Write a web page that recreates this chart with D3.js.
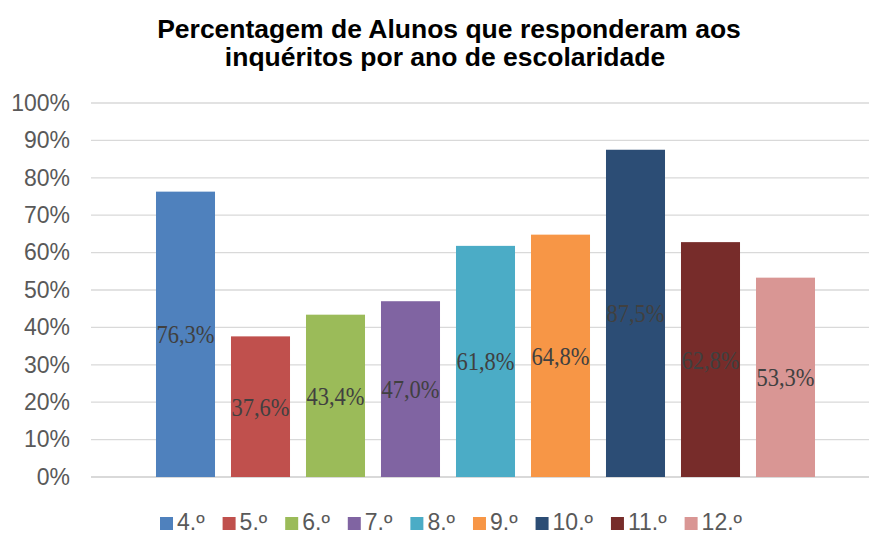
<!DOCTYPE html>
<html>
<head>
<meta charset="utf-8">
<script src="https://cdn.jsdelivr.net/npm/d3@7"></script>
<style>
  body { margin: 0; background: #fff; }
  svg { display: block; }
</style>
</head>
<body>
<svg id="chart" width="869" height="535"></svg>
<script>
// chart data
var categories = ["4.º", "5.º", "6.º", "7.º", "8.º", "9.º", "10.º", "11.º", "12.º"];
var values = [0.763, 0.376, 0.434, 0.470, 0.618, 0.648, 0.875, 0.628, 0.533];
var colors = ["#4F81BD", "#C0504D", "#9BBB59", "#8064A2", "#4BACC6", "#F79646", "#2C4D75", "#772C2A", "#D99694"];
var yTicks = [0, 0.1, 0.2, 0.3, 0.4, 0.5, 0.6, 0.7, 0.8, 0.9, 1.0];
var titleLines = ["Percentagem de Alunos que responderam aos", "inquéritos por ano de escolaridade"];

var svg = d3.select("#chart");

var x = d3.scaleBand()
  .domain(categories)
  .range([148, 823])
  .paddingInner(0.213)
  .paddingOuter(0.1065);

var y = d3.scaleLinear()
  .domain([0, 1])
  .range([477, 103]);

// title
svg.append("g").selectAll("text")
  .data(titleLines)
  .enter().append("text")
  .attr("x", function(d, i) { return i == 0 ? 449 : 445; })
  .attr("y", function(d, i) { return 38 + i * 28; })
  .attr("text-anchor", "middle")
  .style("font-family", "'Liberation Sans', Arial, sans-serif")
  .style("font-weight", "bold")
  .style("font-size", "26.5px")
  .style("fill", "#000")
  .text(function(d) { return d; });

// gridlines
var grid = svg.append("g");
grid.selectAll("line")
  .data(yTicks)
  .enter().append("line")
  .attr("x1", 91)
  .attr("x2", 869)
  .attr("y1", function(d) { return y(d); })
  .attr("y2", function(d) { return y(d); })
  .attr("stroke", "#D9D9D9")
  .attr("stroke-width", function(d) { return d == 0 ? 2 : 1.3; });

// y axis labels
var yAxis = d3.axisLeft(y)
  .tickValues(yTicks)
  .tickFormat(d3.format(".0%"))
  .tickSize(0)
  .tickPadding(0);

var ya = svg.append("g")
  .attr("transform", "translate(70,0)")
  .call(yAxis);
ya.select(".domain").remove();
ya.selectAll("text")
  .style("font-family", "'Liberation Sans', Arial, sans-serif")
  .style("font-size", "23px")
  .style("fill", "#595959");

// bars
svg.append("g").selectAll("rect")
  .data(values)
  .enter().append("rect")
  .attr("x", function(d, i) { return x(categories[i]); })
  .attr("y", function(d) { return y(d); })
  .attr("width", x.bandwidth())
  .attr("height", function(d) { return y(0) - y(d); })
  .attr("fill", function(d, i) { return colors[i]; });

// data labels in the middle of each bar
svg.append("g").selectAll("text")
  .data(values)
  .enter().append("text")
  .attr("transform", function(d, i) {
    var cx = x(categories[i]) + x.bandwidth() / 2;
    var cy = (y(d) + y(0)) / 2 + 9;
    return "translate(" + cx + "," + cy + ") scale(0.9,1)";
  })
  .attr("text-anchor", "middle")
  .style("font-family", "'Liberation Serif', 'Times New Roman', serif")
  .style("font-size", "25px")
  .style("fill", "#404040")
  .text(function(d) { return (d * 100).toFixed(1).replace(".", ",") + "%"; });

// legend
var legend = svg.append("g");
var items = legend.selectAll("g")
  .data(categories)
  .enter().append("g");

items.append("rect")
  .attr("width", 13)
  .attr("height", 13)
  .attr("y", 517)
  .attr("fill", function(d, i) { return colors[i]; });

items.append("text")
  .attr("x", 17)
  .attr("y", 530)
  .style("font-family", "'Liberation Sans', Arial, sans-serif")
  .style("font-size", "23px")
  .style("fill", "#595959")
  .text(function(d) { return d; });

var pos = 0;
var offsets = [];
items.each(function(d, i) {
  offsets.push(pos);
  var w = d3.select(this).select("text").node().getComputedTextLength();
  pos += 17 + w + 18;
});
var total = pos - 18;
var start = 451 - total / 2;
items.attr("transform", function(d, i) { return "translate(" + (start + offsets[i]) + ",0)"; });
</script>
</body>
</html>
